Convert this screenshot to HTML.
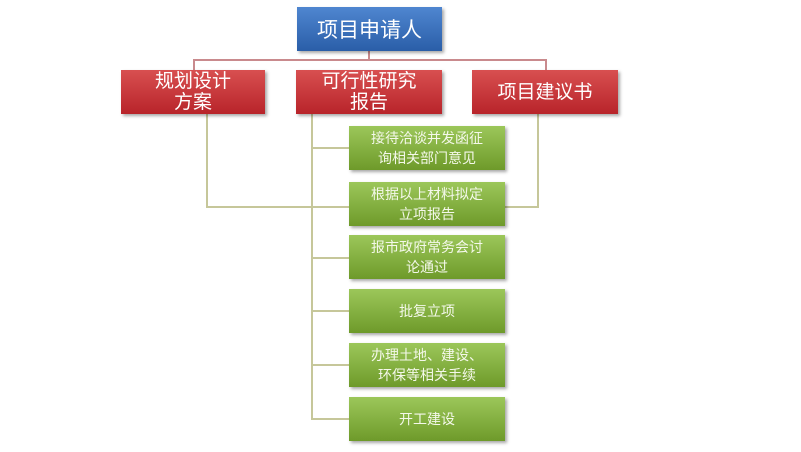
<!DOCTYPE html>
<html><head><meta charset="utf-8"><style>
body{margin:0;width:801px;height:452px;background:#fff;position:relative;overflow:hidden;font-family:"Liberation Sans","Noto Sans CJK SC",sans-serif}
.b{position:absolute;display:flex;align-items:center;justify-content:center;text-align:center;color:#fff;box-shadow:2px 2px 3px rgba(0,0,0,.35)}
.blue{background:linear-gradient(#4f86d0,#2a5ea8);font-size:21px}
.red{background:linear-gradient(#d85050,#b8242a);font-size:19px;line-height:21px}
.g{background:linear-gradient(#9cc75a,#6e9a2a);font-size:14px;line-height:20px;left:349px;width:156px;height:44px;color:#f4f8ea}
.l{position:absolute;background:#c6c79a}
.r{position:absolute;background:#c98a8d}
</style></head><body>
<div class="r" style="left:193px;top:59px;width:354px;height:2px"></div>
<div class="r" style="left:368px;top:51px;width:2px;height:9px"></div>
<div class="r" style="left:193px;top:59px;width:2px;height:11px"></div>
<div class="r" style="left:545px;top:59px;width:2px;height:11px"></div>
<div class="l" style="left:206px;top:114px;width:2px;height:94px"></div>
<div class="l" style="left:206px;top:206px;width:143px;height:2px"></div>
<div class="l" style="left:537px;top:114px;width:2px;height:94px"></div>
<div class="l" style="left:505px;top:206px;width:34px;height:2px"></div>
<div class="l" style="left:311px;top:114px;width:2px;height:306px"></div>
<div class="l" style="left:311px;top:147px;width:38px;height:2px"></div>
<div class="l" style="left:311px;top:257px;width:38px;height:2px"></div>
<div class="l" style="left:311px;top:310px;width:38px;height:2px"></div>
<div class="l" style="left:311px;top:364px;width:38px;height:2px"></div>
<div class="l" style="left:311px;top:418px;width:38px;height:2px"></div>
<div class="b blue" style="left:297px;top:7px;width:145px;height:44px">项目申请人</div>
<div class="b red" style="left:121px;top:70px;width:144px;height:44px">规划设计<br>方案</div>
<div class="b red" style="left:296px;top:70px;width:146px;height:44px">可行性研究<br>报告</div>
<div class="b red" style="left:472px;top:70px;width:146px;height:44px">项目建议书</div>
<div class="b g" style="top:126px">接待洽谈并发函征<br>询相关部门意见</div>
<div class="b g" style="top:182px">根据以上材料拟定<br>立项报告</div>
<div class="b g" style="top:235px">报市政府常务会讨<br>论通过</div>
<div class="b g" style="top:289px">批复立项</div>
<div class="b g" style="top:343px">办理土地、建设、<br>环保等相关手续</div>
<div class="b g" style="top:397px">开工建设</div>
</body></html>
